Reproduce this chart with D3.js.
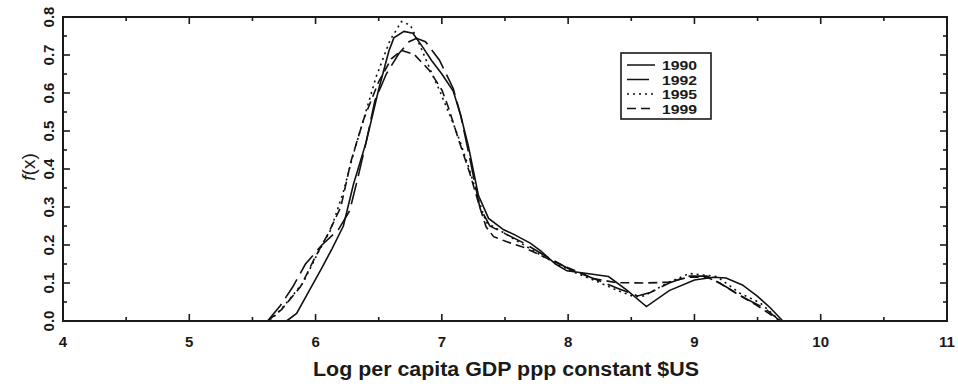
<!DOCTYPE html>
<html>
<head>
<meta charset="utf-8">
<script src="https://cdn.jsdelivr.net/npm/d3@7"></script>
<style>
  body { margin: 0; background: #fff; }
  text { font-family: "Liberation Sans", Arial, sans-serif; fill: #1a1a1a; }
</style>
</head>
<body>
<div id="chart"></div>
<script>
// kernel density of log per capita GDP, four years
var years = ["1990", "1992", "1995", "1999"],
    dashes = [null, "22,7", "2,4", "9,5"];

var xTicks = [4, 5, 6, 7, 8, 9, 10, 11],
    yTicks = [0, 0.1, 0.2, 0.3, 0.4, 0.5, 0.6, 0.7, 0.8];

// [x, f(x)]
var d1990 = [[5.77,0],[5.85,0.02],[5.95,0.08],[6.05,0.14],[6.13,0.19],[6.22,0.25],
  [6.3,0.36],[6.4,0.47],[6.5,0.61],[6.58,0.71],[6.62,0.745],[6.7,0.762],[6.77,0.757],
  [6.85,0.72],[6.92,0.685],[7.0,0.65],[7.09,0.605],[7.15,0.54],[7.21,0.46],[7.29,0.33],
  [7.37,0.27],[7.49,0.24],[7.57,0.228],[7.7,0.205],[7.78,0.185],[7.9,0.15],[7.99,0.132],
  [8.15,0.125],[8.32,0.117],[8.47,0.08],[8.62,0.038],[8.8,0.08],[9.0,0.108],[9.15,0.115],
  [9.25,0.113],[9.38,0.095],[9.5,0.065],[9.6,0.035],[9.7,0]];

var d1992 = [[5.62,0],[5.72,0.04],[5.82,0.09],[5.92,0.15],[6.05,0.2],[6.18,0.24],
  [6.27,0.29],[6.33,0.37],[6.4,0.47],[6.47,0.58],[6.56,0.65],[6.66,0.704],[6.74,0.735],
  [6.8,0.744],[6.87,0.735],[6.98,0.687],[7.09,0.612],[7.15,0.54],[7.22,0.43],[7.3,0.3],
  [7.38,0.25],[7.5,0.23],[7.65,0.205],[7.8,0.175],[8.0,0.138],[8.2,0.112],[8.4,0.085],
  [8.55,0.066],[8.65,0.075],[8.8,0.1],[8.95,0.118],[9.1,0.118],[9.25,0.09],[9.4,0.06],
  [9.55,0.035],[9.68,0]];

var d1995 = [[5.64,0],[5.75,0.04],[5.9,0.1],[6.02,0.18],[6.12,0.24],[6.22,0.34],
  [6.3,0.44],[6.38,0.53],[6.48,0.643],[6.59,0.739],[6.68,0.788],[6.75,0.779],[6.82,0.73],
  [6.91,0.66],[6.98,0.608],[7.09,0.52],[7.14,0.476],[7.22,0.397],[7.3,0.31],[7.35,0.26],
  [7.45,0.24],[7.6,0.21],[7.8,0.17],[8.0,0.135],[8.2,0.108],[8.38,0.082],[8.52,0.064],
  [8.6,0.066],[8.78,0.099],[8.96,0.125],[9.18,0.117],[9.36,0.073],[9.52,0.048],[9.68,0]];

var d1999 = [[5.62,0],[5.73,0.03],[5.88,0.09],[6.0,0.17],[6.1,0.23],[6.2,0.3],
  [6.28,0.42],[6.38,0.53],[6.5,0.63],[6.6,0.69],[6.68,0.712],[6.78,0.702],[6.9,0.66],
  [7.0,0.608],[7.05,0.564],[7.13,0.48],[7.22,0.39],[7.3,0.3],[7.35,0.248],[7.41,0.222],
  [7.51,0.209],[7.64,0.195],[7.8,0.17],[8.0,0.14],[8.2,0.112],[8.38,0.101],[8.6,0.1],
  [8.79,0.102],[8.95,0.115],[9.1,0.115],[9.2,0.1],[9.33,0.073],[9.49,0.042],[9.68,0]];

var series = [d1990, d1992, d1995, d1999];

var width = 958, height = 389,
    margin = {top: 17, right: 11, bottom: 68, left: 63},
    pw = width - margin.left - margin.right,
    ph = height - margin.top - margin.bottom;

var svg = d3.select("#chart").append("svg")
    .attr("width", width).attr("height", height);

var g = svg.append("g")
    .attr("transform", "translate(" + margin.left + "," + margin.top + ")");

var xScale = d3.scaleLinear().domain([4, 11]).range([0, pw]),
    yScale = d3.scaleLinear().domain([0, 0.8]).range([ph, 0]);

var xMinor = d3.range(4.5, 11, 1),
    yMinor = d3.range(0.05, 0.8, 0.1);

// ticks point inward on all four sides
function tickLines(sel, vals, len, horiz){
  vals.forEach(function(v){
    if(horiz){
      var x = xScale(v);
      sel.append("line").attr("x1", x).attr("x2", x).attr("y1", ph).attr("y2", ph - len);
      sel.append("line").attr("x1", x).attr("x2", x).attr("y1", 0).attr("y2", len);
    } else {
      var y = yScale(v);
      sel.append("line").attr("x1", 0).attr("x2", len).attr("y1", y).attr("y2", y);
      sel.append("line").attr("x1", pw).attr("x2", pw - len).attr("y1", y).attr("y2", y);
    }
  });
}
var tg = g.append("g").attr("stroke", "#1a1a1a").attr("stroke-width", 1.6);
tickLines(tg, xTicks, 7, true);
tickLines(tg, xMinor, 4, true);
tickLines(tg, yTicks, 7, false);
tickLines(tg, yMinor, 4, false);

// curves
var line = d3.line()
    .x(d => xScale(d[0]))
    .y(d => yScale(d[1]));

g.selectAll("path.kd")
  .data(series)
  .join("path")
    .attr("class", "kd")
    .attr("d", line)
    .attr("fill", "none")
    .attr("stroke", "#111")
    .attr("stroke-width", 1.6)
    .attr("stroke-dasharray", (d, i) => dashes[i]);

// frame
g.append("rect")
  .attr("width", pw).attr("height", ph)
  .attr("fill", "none").attr("stroke", "#1a1a1a").attr("stroke-width", 2);

// tick labels
g.selectAll("text.xl")
  .data(xTicks)
  .join("text")
    .attr("class", "xl")
    .attr("x", d => xScale(d))
    .attr("y", ph + 26)
    .attr("text-anchor", "middle")
    .style("font-size", "15px")
    .style("font-weight", "bold")
    .text(d => d);

g.selectAll("text.yl")
  .data(yTicks)
  .join("text")
    .attr("class", "yl")
    .attr("transform", d => "translate(-9," + yScale(d) + ") rotate(-90)")
    .attr("text-anchor", "middle")
    .style("font-size", "15px")
    .style("font-weight", "bold")
    .text(d => d.toFixed(1));

// axis titles
svg.append("text")
  .attr("x", 313)
  .attr("y", 376)
  .attr("textLength", 386)
  .attr("lengthAdjust", "spacingAndGlyphs")
  .style("font-size", "20px")
  .style("font-weight", "bold")
  .text("Log per capita GDP ppp constant $US");

var yt = svg.append("text")
  .attr("transform", "translate(35,167) rotate(-90)")
  .attr("text-anchor", "middle")
  .style("font-size", "19px");
yt.append("tspan").style("font-style", "italic").text("f");
yt.append("tspan").text("(x)");

// legend
var lg = svg.append("g").attr("transform", "translate(621,53)");
lg.append("rect").attr("width", 90).attr("height", 66)
  .attr("fill", "#fff").attr("stroke", "#1a1a1a").attr("stroke-width", 1.6);
years.forEach(function(yr, i){
  var yy = 12 + i * 14.5;
  lg.append("line")
    .attr("x1", 6).attr("x2", 34).attr("y1", yy).attr("y2", yy)
    .attr("stroke", "#111").attr("stroke-width", 1.5)
    .attr("stroke-dasharray", dashes[i]);
  lg.append("text")
    .attr("x", 41).attr("y", yy + 5)
    .attr("textLength", 35)
    .attr("lengthAdjust", "spacingAndGlyphs")
    .style("font-size", "13px")
    .style("font-weight", "bold")
    .text(yr);
});
</script>
</body>
</html>
